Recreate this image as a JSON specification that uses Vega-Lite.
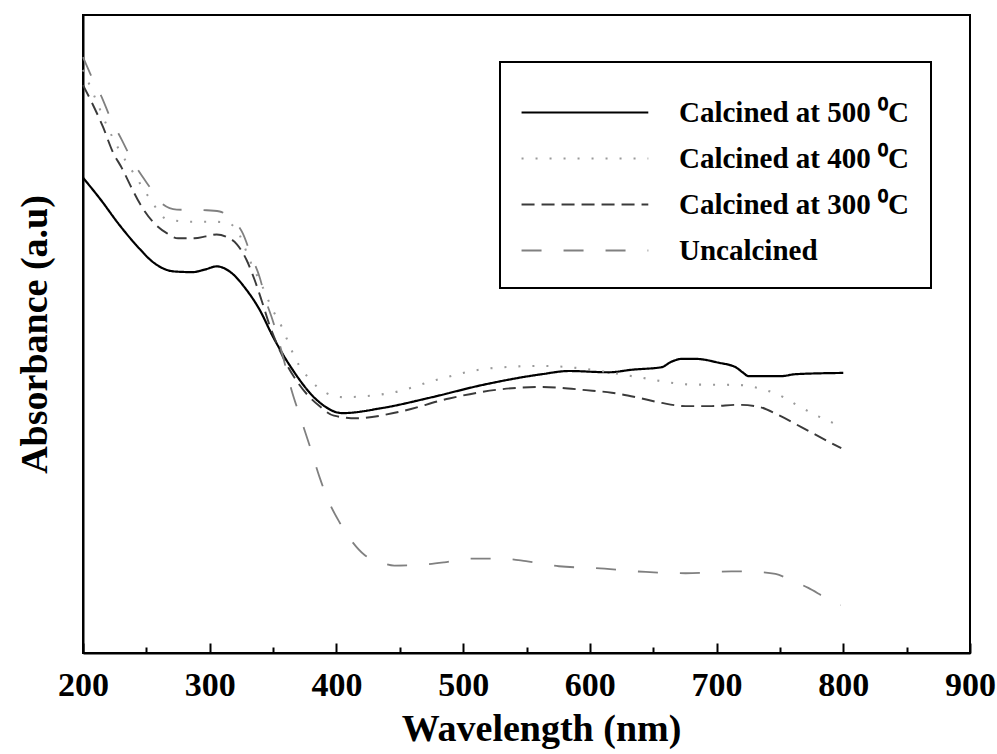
{
  "$schema": "https://vega.github.io/schema/vega-lite/v6.json",
  "autosize": {"type": "none"},
  "width": 887,
  "height": 638,
  "padding": {"left": 83, "top": 15, "right": 27, "bottom": 101},
  "background": "white",
  "config": {
    "view": {"stroke": "black", "strokeWidth": 2},
    "font": "Liberation Serif",
    "legend": {"strokeWidth": 2}
  },
  "data": {"values": [
    {"s": "Calcined at 500 ⁰C", "x": 200, "y": 0.745},
    {"s": "Calcined at 500 ⁰C", "x": 213.4, "y": 0.712},
    {"s": "Calcined at 500 ⁰C", "x": 229.1, "y": 0.670},
    {"s": "Calcined at 500 ⁰C", "x": 244.9, "y": 0.633},
    {"s": "Calcined at 500 ⁰C", "x": 255, "y": 0.613},
    {"s": "Calcined at 500 ⁰C", "x": 263, "y": 0.603},
    {"s": "Calcined at 500 ⁰C", "x": 272, "y": 0.598},
    {"s": "Calcined at 500 ⁰C", "x": 286.6, "y": 0.597},
    {"s": "Calcined at 500 ⁰C", "x": 296.1, "y": 0.601},
    {"s": "Calcined at 500 ⁰C", "x": 305.5, "y": 0.606},
    {"s": "Calcined at 500 ⁰C", "x": 315.7, "y": 0.598},
    {"s": "Calcined at 500 ⁰C", "x": 329.1, "y": 0.569},
    {"s": "Calcined at 500 ⁰C", "x": 339.4, "y": 0.538},
    {"s": "Calcined at 500 ⁰C", "x": 349.6, "y": 0.497},
    {"s": "Calcined at 500 ⁰C", "x": 365.4, "y": 0.444},
    {"s": "Calcined at 500 ⁰C", "x": 384.3, "y": 0.397},
    {"s": "Calcined at 500 ⁰C", "x": 404.7, "y": 0.376},
    {"s": "Calcined at 500 ⁰C", "x": 436.2, "y": 0.384},
    {"s": "Calcined at 500 ⁰C", "x": 475.6, "y": 0.401},
    {"s": "Calcined at 500 ⁰C", "x": 515.0, "y": 0.420},
    {"s": "Calcined at 500 ⁰C", "x": 562.2, "y": 0.437},
    {"s": "Calcined at 500 ⁰C", "x": 583.5, "y": 0.442},
    {"s": "Calcined at 500 ⁰C", "x": 615.0, "y": 0.440},
    {"s": "Calcined at 500 ⁰C", "x": 633.1, "y": 0.444},
    {"s": "Calcined at 500 ⁰C", "x": 656.7, "y": 0.448},
    {"s": "Calcined at 500 ⁰C", "x": 663.8, "y": 0.456},
    {"s": "Calcined at 500 ⁰C", "x": 672.4, "y": 0.461},
    {"s": "Calcined at 500 ⁰C", "x": 683.5, "y": 0.461},
    {"s": "Calcined at 500 ⁰C", "x": 701.6, "y": 0.455},
    {"s": "Calcined at 500 ⁰C", "x": 715.0, "y": 0.448},
    {"s": "Calcined at 500 ⁰C", "x": 720.5, "y": 0.440},
    {"s": "Calcined at 500 ⁰C", "x": 725.2, "y": 0.434},
    {"s": "Calcined at 500 ⁰C", "x": 751.2, "y": 0.434},
    {"s": "Calcined at 500 ⁰C", "x": 762.2, "y": 0.437},
    {"s": "Calcined at 500 ⁰C", "x": 800, "y": 0.439},

    {"s": "Calcined at 400 ⁰C", "x": 200, "y": 0.914},
    {"s": "Calcined at 400 ⁰C", "x": 209.4, "y": 0.871},
    {"s": "Calcined at 400 ⁰C", "x": 219.7, "y": 0.823},
    {"s": "Calcined at 400 ⁰C", "x": 227.6, "y": 0.792},
    {"s": "Calcined at 400 ⁰C", "x": 240.9, "y": 0.749},
    {"s": "Calcined at 400 ⁰C", "x": 252.8, "y": 0.712},
    {"s": "Calcined at 400 ⁰C", "x": 266.1, "y": 0.680},
    {"s": "Calcined at 400 ⁰C", "x": 284.3, "y": 0.676},
    {"s": "Calcined at 400 ⁰C", "x": 300.0, "y": 0.676},
    {"s": "Calcined at 400 ⁰C", "x": 313.4, "y": 0.675},
    {"s": "Calcined at 400 ⁰C", "x": 323.6, "y": 0.655},
    {"s": "Calcined at 400 ⁰C", "x": 331.5, "y": 0.616},
    {"s": "Calcined at 400 ⁰C", "x": 341.7, "y": 0.574},
    {"s": "Calcined at 400 ⁰C", "x": 349.6, "y": 0.538},
    {"s": "Calcined at 400 ⁰C", "x": 356.7, "y": 0.512},
    {"s": "Calcined at 400 ⁰C", "x": 363.0, "y": 0.482},
    {"s": "Calcined at 400 ⁰C", "x": 368.5, "y": 0.458},
    {"s": "Calcined at 400 ⁰C", "x": 377.2, "y": 0.433},
    {"s": "Calcined at 400 ⁰C", "x": 390.6, "y": 0.409},
    {"s": "Calcined at 400 ⁰C", "x": 404.7, "y": 0.401},
    {"s": "Calcined at 400 ⁰C", "x": 444.1, "y": 0.408},
    {"s": "Calcined at 400 ⁰C", "x": 478.7, "y": 0.428},
    {"s": "Calcined at 400 ⁰C", "x": 520.5, "y": 0.446},
    {"s": "Calcined at 400 ⁰C", "x": 562.2, "y": 0.450},
    {"s": "Calcined at 400 ⁰C", "x": 593.7, "y": 0.446},
    {"s": "Calcined at 400 ⁰C", "x": 636.2, "y": 0.433},
    {"s": "Calcined at 400 ⁰C", "x": 678.0, "y": 0.421},
    {"s": "Calcined at 400 ⁰C", "x": 717.3, "y": 0.420},
    {"s": "Calcined at 400 ⁰C", "x": 735.4, "y": 0.414},
    {"s": "Calcined at 400 ⁰C", "x": 752.8, "y": 0.401},
    {"s": "Calcined at 400 ⁰C", "x": 763.0, "y": 0.389},
    {"s": "Calcined at 400 ⁰C", "x": 780.3, "y": 0.371},
    {"s": "Calcined at 400 ⁰C", "x": 793.7, "y": 0.359},
    {"s": "Calcined at 400 ⁰C", "x": 800, "y": 0.353},

    {"s": "Calcined at 300 ⁰C", "x": 200, "y": 0.890},
    {"s": "Calcined at 300 ⁰C", "x": 207.9, "y": 0.859},
    {"s": "Calcined at 300 ⁰C", "x": 215.7, "y": 0.825},
    {"s": "Calcined at 300 ⁰C", "x": 223.6, "y": 0.785},
    {"s": "Calcined at 300 ⁰C", "x": 230.7, "y": 0.760},
    {"s": "Calcined at 300 ⁰C", "x": 238.6, "y": 0.728},
    {"s": "Calcined at 300 ⁰C", "x": 245, "y": 0.704},
    {"s": "Calcined at 300 ⁰C", "x": 255.1, "y": 0.676},
    {"s": "Calcined at 300 ⁰C", "x": 266.1, "y": 0.658},
    {"s": "Calcined at 300 ⁰C", "x": 275, "y": 0.650},
    {"s": "Calcined at 300 ⁰C", "x": 288, "y": 0.650},
    {"s": "Calcined at 300 ⁰C", "x": 297, "y": 0.653},
    {"s": "Calcined at 300 ⁰C", "x": 305.5, "y": 0.656},
    {"s": "Calcined at 300 ⁰C", "x": 313.4, "y": 0.652},
    {"s": "Calcined at 300 ⁰C", "x": 321.3, "y": 0.641},
    {"s": "Calcined at 300 ⁰C", "x": 329.1, "y": 0.616},
    {"s": "Calcined at 300 ⁰C", "x": 335.4, "y": 0.585},
    {"s": "Calcined at 300 ⁰C", "x": 340.9, "y": 0.553},
    {"s": "Calcined at 300 ⁰C", "x": 347.2, "y": 0.514},
    {"s": "Calcined at 300 ⁰C", "x": 355.1, "y": 0.475},
    {"s": "Calcined at 300 ⁰C", "x": 370.9, "y": 0.420},
    {"s": "Calcined at 300 ⁰C", "x": 386.6, "y": 0.387},
    {"s": "Calcined at 300 ⁰C", "x": 398, "y": 0.372},
    {"s": "Calcined at 300 ⁰C", "x": 415.7, "y": 0.368},
    {"s": "Calcined at 300 ⁰C", "x": 449.6, "y": 0.378},
    {"s": "Calcined at 300 ⁰C", "x": 489.0, "y": 0.399},
    {"s": "Calcined at 300 ⁰C", "x": 528.3, "y": 0.413},
    {"s": "Calcined at 300 ⁰C", "x": 562.2, "y": 0.417},
    {"s": "Calcined at 300 ⁰C", "x": 596.9, "y": 0.412},
    {"s": "Calcined at 300 ⁰C", "x": 617.3, "y": 0.408},
    {"s": "Calcined at 300 ⁰C", "x": 638.6, "y": 0.400},
    {"s": "Calcined at 300 ⁰C", "x": 656.7, "y": 0.392},
    {"s": "Calcined at 300 ⁰C", "x": 675.6, "y": 0.387},
    {"s": "Calcined at 300 ⁰C", "x": 696.1, "y": 0.387},
    {"s": "Calcined at 300 ⁰C", "x": 717.3, "y": 0.389},
    {"s": "Calcined at 300 ⁰C", "x": 733.1, "y": 0.386},
    {"s": "Calcined at 300 ⁰C", "x": 748.8, "y": 0.373},
    {"s": "Calcined at 300 ⁰C", "x": 766.9, "y": 0.354},
    {"s": "Calcined at 300 ⁰C", "x": 790.6, "y": 0.329},
    {"s": "Calcined at 300 ⁰C", "x": 798.4, "y": 0.321},

    {"s": "Uncalcined", "x": 200, "y": 0.934},
    {"s": "Uncalcined", "x": 205.5, "y": 0.909},
    {"s": "Uncalcined", "x": 215.7, "y": 0.867},
    {"s": "Uncalcined", "x": 221.3, "y": 0.840},
    {"s": "Uncalcined", "x": 230.7, "y": 0.804},
    {"s": "Uncalcined", "x": 238.6, "y": 0.773},
    {"s": "Uncalcined", "x": 252.8, "y": 0.730},
    {"s": "Uncalcined", "x": 262, "y": 0.705},
    {"s": "Uncalcined", "x": 274.0, "y": 0.695},
    {"s": "Uncalcined", "x": 297.6, "y": 0.694},
    {"s": "Uncalcined", "x": 307.9, "y": 0.692},
    {"s": "Uncalcined", "x": 315.7, "y": 0.683},
    {"s": "Uncalcined", "x": 326.0, "y": 0.658},
    {"s": "Uncalcined", "x": 333.1, "y": 0.621},
    {"s": "Uncalcined", "x": 339.4, "y": 0.589},
    {"s": "Uncalcined", "x": 344.9, "y": 0.549},
    {"s": "Uncalcined", "x": 349.6, "y": 0.522},
    {"s": "Uncalcined", "x": 357.5, "y": 0.467},
    {"s": "Uncalcined", "x": 364.6, "y": 0.412},
    {"s": "Uncalcined", "x": 370.9, "y": 0.373},
    {"s": "Uncalcined", "x": 378.7, "y": 0.326},
    {"s": "Uncalcined", "x": 386.6, "y": 0.276},
    {"s": "Uncalcined", "x": 394.5, "y": 0.235},
    {"s": "Uncalcined", "x": 402.4, "y": 0.205},
    {"s": "Uncalcined", "x": 412.6, "y": 0.174},
    {"s": "Uncalcined", "x": 422.0, "y": 0.154},
    {"s": "Uncalcined", "x": 433.9, "y": 0.143},
    {"s": "Uncalcined", "x": 445.7, "y": 0.137},
    {"s": "Uncalcined", "x": 465.4, "y": 0.138},
    {"s": "Uncalcined", "x": 485.0, "y": 0.142},
    {"s": "Uncalcined", "x": 504.7, "y": 0.148},
    {"s": "Uncalcined", "x": 528.3, "y": 0.148},
    {"s": "Uncalcined", "x": 549.6, "y": 0.144},
    {"s": "Uncalcined", "x": 575.6, "y": 0.136},
    {"s": "Uncalcined", "x": 604.7, "y": 0.133},
    {"s": "Uncalcined", "x": 644.1, "y": 0.127},
    {"s": "Uncalcined", "x": 675.6, "y": 0.125},
    {"s": "Uncalcined", "x": 711.8, "y": 0.128},
    {"s": "Uncalcined", "x": 733.1, "y": 0.127},
    {"s": "Uncalcined", "x": 746.5, "y": 0.124},
    {"s": "Uncalcined", "x": 759.1, "y": 0.114},
    {"s": "Uncalcined", "x": 772.4, "y": 0.102},
    {"s": "Uncalcined", "x": 786.6, "y": 0.086},
    {"s": "Uncalcined", "x": 798, "y": 0.075}
  ]},
  "mark": {"type": "line", "interpolate": "monotone"},
  "encoding": {
    "x": {
      "field": "x", "type": "quantitative",
      "scale": {"domain": [200, 900], "nice": false, "zero": false},
      "axis": {
        "title": "Wavelength (nm)",
        "values": [200, 250, 300, 350, 400, 450, 500, 550, 600, 650, 700, 750, 800, 850, 900],
        "labelExpr": "datum.value % 100 === 0 ? datum.label : ''",
        "tickSize": {"condition": {"test": "datum.value % 100 === 0", "value": -10}, "value": -6},
        "tickColor": "black", "tickWidth": 2,
        "domainColor": "black", "domainWidth": 2,
        "grid": false,
        "labelFlush": false, "labelOverlap": false,
        "labelFont": "Liberation Serif", "labelFontWeight": "bold", "labelFontSize": 34, "labelColor": "black",
        "labelPadding": 25,
        "titleFont": "Liberation Serif", "titleFontWeight": "bold", "titleFontSize": 38, "titleColor": "black",
        "titlePadding": 4,
        "titleX": 458
      }
    },
    "y": {
      "field": "y", "type": "quantitative",
      "scale": {"domain": [0, 1], "nice": false},
      "axis": {
        "title": "Absorbance (a.u)",
        "ticks": false, "labels": false, "grid": false,
        "domainColor": "black", "domainWidth": 2,
        "titleFont": "Liberation Serif", "titleFontWeight": "bold", "titleFontSize": 38, "titleColor": "black",
        "titlePadding": 29
      }
    },
    "color": {
      "field": "s", "type": "nominal",
      "scale": {
        "domain": ["Calcined at 500 ⁰C", "Calcined at 400 ⁰C", "Calcined at 300 ⁰C", "Uncalcined"],
        "range": ["#000000", "#9a9a9a", "#3a3a3a", "#808080"]
      },
      "legend": {
        "orient": "none", "legendX": 417, "legendY": 47,
        "title": " ", "titleFontSize": 12, "titlePadding": 2,
        "direction": "vertical",
        "symbolType": "M-1.15,0H8.6", "symbolSize": 676, "symbolStrokeWidth": 2,
        "labelOffset": 128,
        "labelFont": "Liberation Serif", "labelFontWeight": "bold", "labelFontSize": 29, "labelColor": "black",
        "labelLimit": 400,
        "rowPadding": 16,
        "padding": 22,
        "fillColor": "white", "strokeColor": "black"
      }
    },
    "strokeDash": {
      "field": "s", "type": "nominal",
      "scale": {
        "domain": ["Calcined at 500 ⁰C", "Calcined at 400 ⁰C", "Calcined at 300 ⁰C", "Uncalcined"],
        "range": [[1, 0], [2, 12], [13, 7], [20, 22]]
      },
      "legend": null
    },
    "strokeWidth": {
      "field": "s", "type": "nominal",
      "scale": {
        "domain": ["Calcined at 500 ⁰C", "Calcined at 400 ⁰C", "Calcined at 300 ⁰C", "Uncalcined"],
        "range": [2.2, 1.8, 1.8, 1.5]
      },
      "legend": null
    }
  }
}
